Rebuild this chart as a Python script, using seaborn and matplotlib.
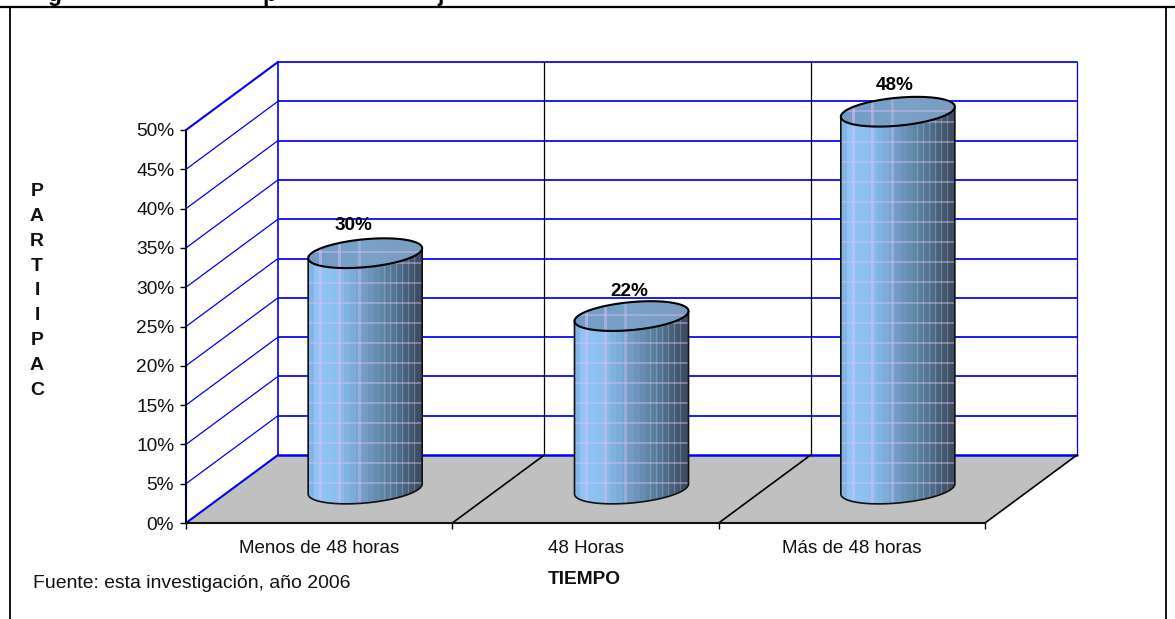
import numpy as np
import pandas as pd
import matplotlib.pyplot as plt
import seaborn as sns
from matplotlib.lines import Line2D
from matplotlib.patches import PathPatch, Polygon
from matplotlib.path import Path
from matplotlib.colors import to_rgb

# Datos
categorias = ['Menos de 48 horas', '48 Horas', 'Más de 48 horas']
valores = [30, 22, 48]
etiquetas = ['30%', '22%', '48%']
ticks_y = [0, 5, 10, 15, 20, 25, 30, 35, 40, 45, 50]
letras_eje_y = list('PARTIIPAC')

W, H = 1175, 619
sns.set_theme(style='ticks')
plt.rcParams['font.family'] = ['Liberation Sans', 'DejaVu Sans']

fig = plt.figure(figsize=(W / 100, H / 100), dpi=100, facecolor='white')
ax = fig.add_axes([186 / W, 1 - 523 / H, 799 / W, 393 / H])
ax.patch.set_visible(False)

df = pd.DataFrame({'tiempo': categorias, 'valor': valores})
sns.barplot(data=df, x='tiempo', y='valor', width=0.428, ax=ax, zorder=5)
ax.set_xlim(-0.5, 2.5)
ax.set_ylim(0, 50)

# Profundidad del falso 3D, en unidades de datos
px_x, px_y = 799 / 3, 393 / 50
dx = 92 / px_x
dy = 68 / px_y
x0, x1 = ax.get_xlim()
azul = '#0000f5'

# Piso gris
ax.add_patch(Polygon([(x0, 0), (x1, 0), (x1 + dx, dy), (x0 + dx, dy)], closed=True,
                     facecolor='#c0c0c0', edgecolor='none', clip_on=False, zorder=1))

# Pared del fondo y pared izquierda
for v in ticks_y:
    ax.plot([x0 + dx, x1 + dx], [v + dy, v + dy], color=azul, lw=1.8 if v == 0 else 1.25, clip_on=False, zorder=2)
    ax.plot([x0, x0 + dx], [v, v + dy], color=azul, lw=1.5 if v in (0, 50) else 0.9, clip_on=False, zorder=2)
ax.plot([x0 + dx, x0 + dx], [dy, 50 + dy], color=azul, lw=1.2, clip_on=False, zorder=2)
ax.plot([x1 + dx, x1 + dx], [dy, 50 + dy], color=azul, lw=0.9, clip_on=False, zorder=2)

limites = [x0 + 1, x0 + 2]
for x in limites:
    ax.plot([x + dx, x + dx], [dy, 50 + dy], color='black', lw=0.9, clip_on=False, zorder=2)
for x in limites + [x1]:
    ax.plot([x, x + dx], [0, dy], color='black', lw=1.2, clip_on=False, zorder=2)

# Textura del cilindro
grad_pos = [0, .06, .25, .38, .52, .66, .8, .9, 1]
grad_col = ['#7ba6d8', '#90c5f8', '#8abfef', '#7eafdc', '#7099c2', '#6086a6', '#50708d', '#465a73', '#3b495f']
tapa_col = ['#6f9cc6', '#7aa2c8', '#7b9cc0']
lila = np.array(to_rgb('#dcbcf4'))
blanco = np.array([.95, .95, 1.0])


def textura(alto, colores, posiciones, lineas_claras=False, ancho=114):
    fr = (np.floor(np.arange(ancho) / 6) * 6 + 3) / ancho
    rgb = np.array([to_rgb(c) for c in colores])
    base = np.stack([np.interp(fr, posiciones, rgb[:, k]) for k in range(3)], axis=1)
    img = np.repeat(base[None, :, :], alto, axis=0)
    # cuadricula lila
    for fila in range(alto - 25, 0, -20):
        img[fila - 1:fila + 1] = img[fila - 1:fila + 1] * 0.58 + lila * 0.42
    for col, a in [(12, .55), (31, .5), (51, .35)]:
        img[:, col - 1:col + 2] = img[:, col - 1:col + 2] * (1 - a) + lila * a
    if lineas_claras:
        for col in [76, 82, 88, 94, 100, 106]:
            img[:, col] = img[:, col] * 0.8 + blanco * 0.2
    return img


t = np.linspace(0, 2 * np.pi, 200)
arco = np.linspace(np.pi, 0, 100)
a_x, a_y = 57 / px_x, 5 / px_y
b_y = 14 / px_y
desplaz = [(-12, 14), (-2, 11), (-3, 12)]

for bar, etiqueta, desp in zip(ax.patches, etiquetas, desplaz):
    cx = bar.get_x() + bar.get_width() / 2 + dx / 2
    base = dy / 2
    alto = bar.get_height()
    arriba = base + alto
    bar.set_facecolor('none')
    bar.set_edgecolor('none')

    # cuerpo: lado izquierdo, arco inferior, lado derecho
    cuerpo_x = np.r_[cx - a_x, cx + a_x * np.cos(arco), cx + a_x]
    cuerpo_y = np.r_[arriba - a_y, base + a_y * np.cos(arco) - b_y * np.sin(arco), arriba + a_y]
    parche = PathPatch(Path(np.c_[cuerpo_x, cuerpo_y]), transform=ax.transData, facecolor='none',
                       edgecolor='#111111', lw=1.2, clip_on=False, zorder=7)
    ax.add_patch(parche)
    alto_px = int(round((alto + 2 * b_y + 2 * a_y) * px_y))
    im = ax.imshow(textura(alto_px, grad_col, grad_pos, lineas_claras=True), aspect='auto', interpolation='nearest',
                   zorder=6, extent=(cx - a_x, cx + a_x, base - b_y - a_y, arriba + b_y + a_y))
    im.set_clip_box(fig.bbox)
    im.set_clip_path(parche)

    # tapa superior
    tapa = Polygon(np.c_[cx + a_x * np.cos(t), arriba + a_y * np.cos(t) + b_y * np.sin(t)], closed=True,
                   facecolor='none', edgecolor='black', lw=1.5, clip_on=False, zorder=9)
    ax.add_patch(tapa)
    alto_tapa = int(round(2 * (b_y + a_y) * px_y))
    im2 = ax.imshow(textura(alto_tapa + 25, tapa_col, [0, .5, 1]), aspect='auto', interpolation='nearest', zorder=8,
                    extent=(cx - a_x, cx + a_x, arriba - b_y - a_y - 25 / px_y, arriba + b_y + a_y))
    im2.set_clip_box(fig.bbox)
    im2.set_clip_path(tapa)

    # etiqueta del valor
    ax.annotate(etiqueta, xy=(cx, arriba + b_y), xytext=(desp[0] * .72, desp[1] * .72), textcoords='offset points',
                ha='center', va='center', fontsize=13.6, fontweight='bold', color='black',
                annotation_clip=False, zorder=10)

ax.set_xlim(-0.5, 2.5)
ax.set_ylim(0, 50)

# Ejes
ax.set_yticks(ticks_y)
ax.set_yticklabels([f'{v}%' for v in ticks_y], fontsize=13.8, color='#111111')
ax.set_xticks([x0, x0 + 1, x0 + 2, x1])
ax.set_xticklabels([])
ax.set_xticks([0, 1, 2], minor=True)
ax.set_xticklabels(categorias, minor=True, fontsize=13.5, color='#111111')
ax.tick_params(axis='x', which='major', length=4.5, width=1.0, color='black')
ax.tick_params(axis='x', which='minor', length=0, pad=12)
ax.tick_params(axis='y', length=4.5, width=1.0, color='black', pad=4)
ax.set_xlabel('')
ax.set_ylabel('')
sns.despine(ax=ax)
ax.spines['left'].set_color('#000033')
ax.spines['left'].set_linewidth(1.5)
ax.spines['bottom'].set_color('#111111')
ax.spines['bottom'].set_linewidth(1.5)
ax.spines['left'].set_zorder(3)
ax.spines['bottom'].set_zorder(3)

# Textos sueltos
fig.text(584 / W, 1 - 580 / H, 'TIEMPO', ha='center', va='center', fontsize=13.8, fontweight='bold', color='#111111')
fig.text(33 / W, 1 - 584 / H, 'Fuente: esta investigación, año 2006', ha='left', va='center', fontsize=13.95, color='#111111')
fig.text(37 / W, 1 - 291 / H, '\n'.join(letras_eje_y), ha='center', va='center', fontsize=14, fontweight='bold',
         color='#111111', linespacing=1.61)

# Restos del titulo, cortado por el borde de la pagina
for letra, xp in [('g', 47), ('p', 262), ('j', 437)]:
    fig.text(xp / W, 1 - 1 / H, letra, ha='left', va='baseline', fontsize=16.5, fontweight='bold', color='black')

# Marco del cuadro
fig.add_artist(Line2D([0, 1], [1 - 6.5 / H] * 2, color='black', lw=1.6, transform=fig.transFigure))
fig.add_artist(Line2D([10 / W] * 2, [0, 1 - 6.5 / H], color='black', lw=1.3, transform=fig.transFigure))
fig.add_artist(Line2D([1166 / W] * 2, [0, 1 - 6.5 / H], color='black', lw=1.3, transform=fig.transFigure))

fig.savefig('out.png', dpi=100)
